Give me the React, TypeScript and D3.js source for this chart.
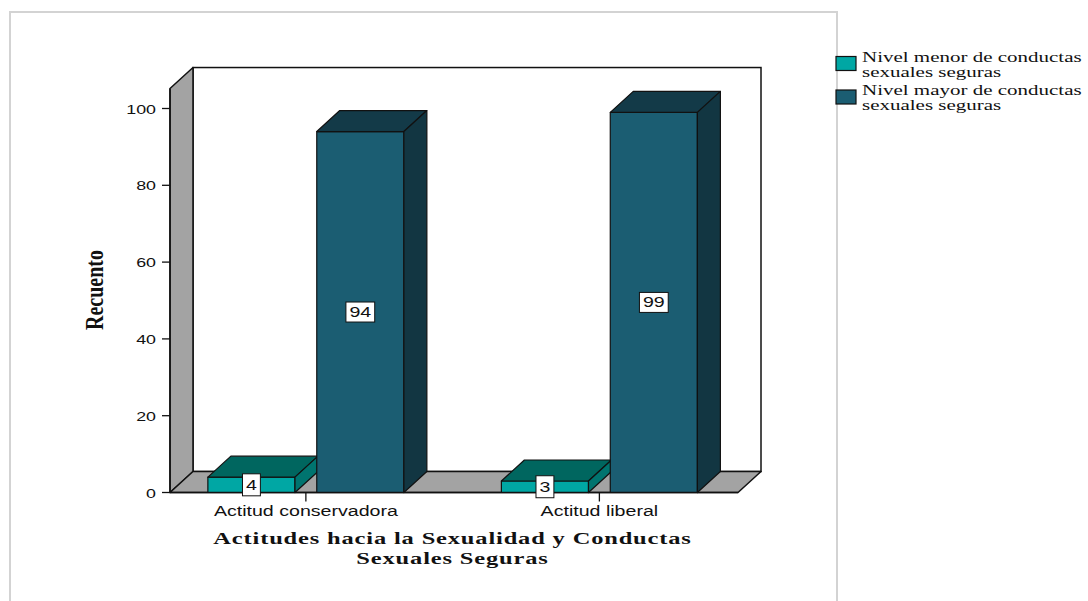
import React from "react";
import * as d3 from "d3";

// Counts per attitude group, split by level of safe sexual behaviour
const categories = ["Actitud conservadora", "Actitud liberal"];
const menorValues = [4, 3];
const mayorValues = [94, 99];
const yTicks = [0, 20, 40, 60, 80, 100];
const legendLines = [
  ["Nivel menor de conductas", "sexuales seguras"],
  ["Nivel mayor de conductas", "sexuales seguras"],
];
const xTitle = ["Actitudes hacia la Sexualidad y Conductas", "Sexuales Seguras"];
const yTitle = "Recuento";

const W = 1088;
const H = 601;

// 3D frame geometry
const floorY = 492.5;
const left = 170;
const right = 738;
const DX = 23;
const DY = -21;
const SX = 1.4; // horizontal glyph stretch

const colors = [
  { front: "#00A7A4", top: "#00665F", side: "#00746F" },
  { front: "#1B5D72", top: "#133A48", side: "#123642" },
];

const sans = "'Liberation Sans', Arial, sans-serif";
const serif = "'Liberation Serif', 'Times New Roman', serif";

export default function App() {
  const y = d3.scaleLinear().domain([0, 100]).range([floorY, 108.5]);
  const wallTop = y(105.2);
  const x = d3
    .scalePoint<string>()
    .domain(categories)
    .range([left, right])
    .padding(0.4676)
    .align(0.495);
  const inner = d3.scaleBand<number>().domain([0, 1]).range([-98, 98]).paddingInner(0.2);
  const bw = inner.bandwidth();

  const series = [menorValues, mayorValues];

  const pts = (arr: number[][]) => arr.map((p) => p.join(",")).join(" ");

  const bars: React.ReactNode[] = [];
  categories.forEach((cat, ci) => {
    const c = x(cat) as number;
    series.forEach((vals, si) => {
      const v = vals[ci];
      const x0 = c + (inner(si) as number);
      const x1 = x0 + bw;
      const yt = y(v);
      const col = colors[si];
      bars.push(
        <g key={`${ci}-${si}`} stroke="#111" strokeWidth={1.2} strokeLinejoin="round">
          <rect x={x0} y={yt} width={bw} height={floorY - yt} fill={col.front} />
          <polygon
            points={pts([
              [x0, yt],
              [x0 + DX, yt + DY],
              [x1 + DX, yt + DY],
              [x1, yt],
            ])}
            fill={col.top}
          />
          <polygon
            points={pts([
              [x1, yt],
              [x1 + DX, yt + DY],
              [x1 + DX, floorY + DY],
              [x1, floorY],
            ])}
            fill={col.side}
          />
        </g>
      );
    });
  });

  const labels: React.ReactNode[] = [];
  categories.forEach((cat, ci) => {
    const c = x(cat) as number;
    series.forEach((vals, si) => {
      const v = vals[ci];
      const cx = c + (inner(si) as number) + bw / 2;
      const cy = y(v / 2);
      const txt = String(v);
      const tw = txt.length * 0.556 * 14 * SX;
      const bwid = tw + 7;
      const bh = si === 0 ? 22 : 20;
      labels.push(
        <g key={`l${ci}-${si}`}>
          <rect
            x={cx - bwid / 2}
            y={cy - bh / 2}
            width={bwid}
            height={bh}
            fill="#fff"
            stroke="#111"
            strokeWidth={1}
          />
          <text
            transform={`translate(${cx},${cy + 5}) scale(${SX},1)`}
            textAnchor="middle"
            fontFamily={sans}
            fontSize={14}
            fill="#111"
          >
            {txt}
          </text>
        </g>
      );
    });
  });

  return (
    <div style={{ position: "absolute", left: 0, top: 0 }}>
      <svg width={W} height={H} viewBox={`0 0 ${W} ${H}`} style={{ display: "block", background: "#fff" }}>
        <rect x={0} y={0} width={W} height={H} fill="#fff" />
        {/* outer chart frame */}
        <rect x={10} y={12} width={827} height={620} fill="none" stroke="#d3d3d3" strokeWidth={2} />

        {/* back wall */}
        <rect
          x={left + DX}
          y={wallTop + DY}
          width={right - left}
          height={floorY - wallTop}
          fill="#fff"
          stroke="#111"
          strokeWidth={1.5}
        />
        {/* left wall */}
        <polygon
          points={pts([
            [left, wallTop],
            [left + DX, wallTop + DY],
            [left + DX, floorY + DY],
            [left, floorY],
          ])}
          fill="#A3A3A3"
          stroke="#111"
          strokeWidth={1.5}
          strokeLinejoin="round"
        />
        {/* floor */}
        <polygon
          points={pts([
            [left, floorY],
            [left + DX, floorY + DY],
            [right + DX, floorY + DY],
            [right, floorY],
          ])}
          fill="#A3A3A3"
          stroke="#111"
          strokeWidth={1.5}
          strokeLinejoin="round"
        />

        {bars}

        {/* y axis */}
        <line x1={left} y1={wallTop} x2={left} y2={floorY} stroke="#111" strokeWidth={1.5} />
        {yTicks.map((t) => (
          <g key={t}>
            <line x1={left - 8} x2={left} y1={y(t)} y2={y(t)} stroke="#111" strokeWidth={1.3} />
            <text
              transform={`translate(${left - 14},${y(t) + 5}) scale(${SX * 0.98},1)`}
              textAnchor="end"
              fontFamily={sans}
              fontSize={13}
              fill="#111"
            >
              {t}
            </text>
          </g>
        ))}

        {/* x axis */}
        <line x1={left} x2={right} y1={floorY} y2={floorY} stroke="#111" strokeWidth={1.5} />
        {categories.map((cat) => {
          const c = x(cat) as number;
          return (
            <g key={cat}>
              <line x1={c} x2={c} y1={floorY} y2={floorY + 9} stroke="#111" strokeWidth={1.3} />
              <text
                transform={`translate(${c},${floorY + 23}) scale(${SX},1)`}
                textAnchor="middle"
                fontFamily={sans}
                fontSize={14}
                fill="#111"
              >
                {cat}
              </text>
            </g>
          );
        })}

        {labels}

        {/* axis titles */}
        {xTitle.map((line, i) => (
          <text
            key={line}
            transform={`translate(452.5,${544 + i * 20}) scale(${SX},1)`}
            textAnchor="middle"
            fontFamily={serif}
            fontWeight="bold"
            fontSize={17.5}
            letterSpacing={0.6}
            fill="#111"
          >
            {line}
          </text>
        ))}
        <text
          transform={`translate(103,290) scale(1.3,1) rotate(-90)`}
          textAnchor="middle"
          fontFamily={serif}
          fontWeight="bold"
          fontSize={20}
          fill="#111"
        >
          {yTitle}
        </text>

        {/* legend */}
        {legendLines.map((lines, i) => (
          <g key={i}>
            <rect
              x={836}
              y={56.5 + i * 33.5}
              width={20}
              height={14}
              fill={colors[i].front}
              stroke="#111"
              strokeWidth={1.2}
            />
            {lines.map((ln, j) => (
              <text
                key={j}
                transform={`translate(862,${62 + i * 32.5 + j * 15}) scale(${SX},1)`}
                fontFamily={serif}
                fontSize={15}
                fill="#111"
              >
                {ln}
              </text>
            ))}
          </g>
        ))}
      </svg>
    </div>
  );
}
